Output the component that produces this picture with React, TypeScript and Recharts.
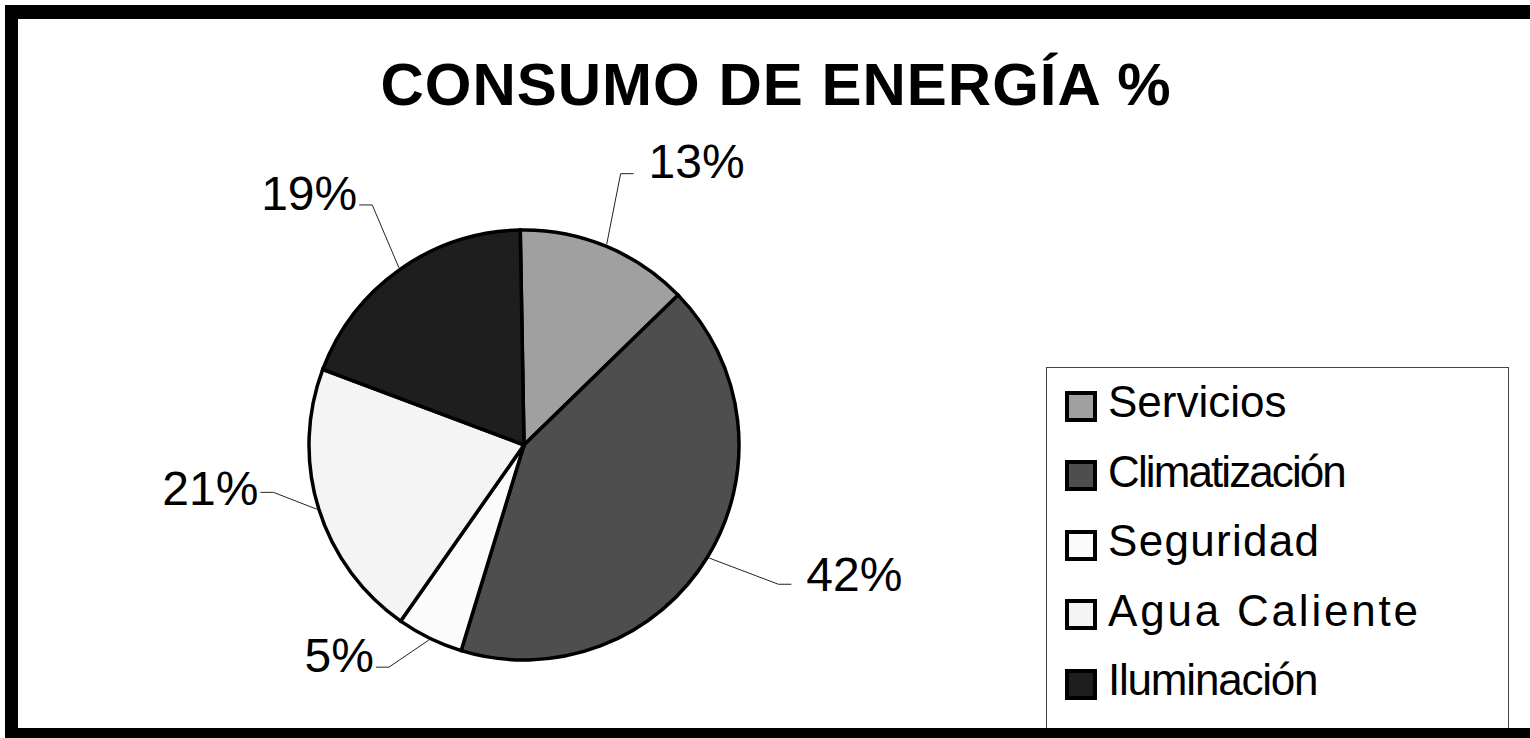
import React from 'react';
import { PieChart, Pie, Cell, Legend } from 'recharts';

const categories = ['Servicios', 'Climatización', 'Seguridad', 'Agua Caliente', 'Iluminación'];
const values = [13, 42, 5, 21, 19];
const colors = ['#a0a0a0', '#4e4e4e', '#fbfbfb', '#f4f4f4', '#1e1e1e'];
const title = 'CONSUMO DE ENERGÍA %';

const data = categories.map((name, i) => ({ name, value: values[i] }));

const FONT = "'Liberation Sans', Arial, Helvetica, sans-serif";
const RAD = Math.PI / 180;

// label leader layout (per slice)
const ELBOW_R = [288, 290, 260, 255, 284];
const ELBOW_SHIFT = [2.8, 2.7, -5.3, -6.5, -2.9];
const BASE_DY = [4, 7, 5, 13, 5];
const LEGEND_SPACING = [0, -1.9, 1.3, 2.8, -1.2];

const renderLabel = (props: any) => {
  const { cx, cy, midAngle, outerRadius, index, value } = props;
  const p = (a: number, r: number) => [cx + r * Math.cos(-a * RAD), cy + r * Math.sin(-a * RAD)];
  const [sx, sy] = p(midAngle, outerRadius + 2);
  const [ex, ey] = p(midAngle + ELBOW_SHIFT[index], ELBOW_R[index]);
  const right = Math.cos(midAngle * RAD) >= 0;
  const hx = ex + (right ? 13 : -13);
  const tx = right ? hx + 15 : hx - 2;
  return (
    <g key={`lbl-${index}`}>
      <polyline
        points={`${sx},${sy} ${ex},${ey} ${hx},${ey}`}
        fill="none"
        stroke="#222"
        strokeWidth={1}
      />
      <text
        x={tx}
        y={ey + BASE_DY[index]}
        textAnchor={right ? 'start' : 'end'}
        fontSize={48}
        fontFamily={FONT}
        fill="#000"
      >
        {`${value}%`}
      </text>
    </g>
  );
};

const renderLegend = () => (
  <div
    style={{
      position: 'relative',
      boxSizing: 'border-box',
      width: 463,
      height: 380,
      border: '1.5px solid #444',
      background: '#fff',
      fontFamily: FONT,
    }}
  >
    {categories.map((c, i) => (
      <div
        key={c}
        style={{
          position: 'absolute',
          left: 18,
          top: 22 + i * 69.5,
          height: 32,
          display: 'flex',
          alignItems: 'center',
          whiteSpace: 'nowrap',
        }}
      >
        <span
          style={{
            display: 'inline-block',
            width: 32,
            height: 31,
            boxSizing: 'border-box',
            border: '4px solid #000',
            background: colors[i],
          }}
        />
        <span
          style={{
            marginLeft: 11,
            fontSize: 44,
            lineHeight: '44px',
            letterSpacing: LEGEND_SPACING[i],
            color: '#000',
            position: 'relative',
            top: -4,
          }}
        >
          {c}
        </span>
      </div>
    ))}
  </div>
);

export default function App() {
  return (
    <div
      style={{
        position: 'absolute',
        left: 0,
        top: 0,
        width: 1530,
        height: 738,
        overflow: 'hidden',
        background: '#fff',
      }}
    >
      <PieChart width={1530} height={738} margin={{ top: 0, left: 0, right: 0, bottom: 0 }}>
        <Pie
          data={data}
          dataKey="value"
          nameKey="name"
          cx={524}
          cy={445}
          outerRadius={215}
          startAngle={91}
          endAngle={-269}
          stroke="#000"
          strokeWidth={3.5}
          label={renderLabel}
          labelLine={false}
          isAnimationActive={false}
        >
          {data.map((d, i) => (
            <Cell key={d.name} fill={colors[i]} stroke="#000" strokeWidth={3.5} />
          ))}
        </Pie>
        <Legend
          content={renderLegend}
          wrapperStyle={{ left: 1046, top: 367, width: 463, height: 380 }}
        />
      </PieChart>
      <svg
        width={1530}
        height={130}
        style={{ position: 'absolute', left: 0, top: 0, pointerEvents: 'none' }}
      >
        <text
          x={776}
          y={105}
          textAnchor="middle"
          fontSize={60}
          fontWeight="bold"
          fontFamily={FONT}
          letterSpacing={1}
          fill="#000"
        >
          {title}
        </text>
      </svg>
      <div
        style={{
          position: 'absolute',
          left: 5,
          top: 5,
          width: 1560,
          height: 737,
          boxSizing: 'border-box',
          borderTop: '14px solid #000',
          borderLeft: '13px solid #000',
          borderBottom: '14px solid #000',
          pointerEvents: 'none',
        }}
      />
    </div>
  );
}
